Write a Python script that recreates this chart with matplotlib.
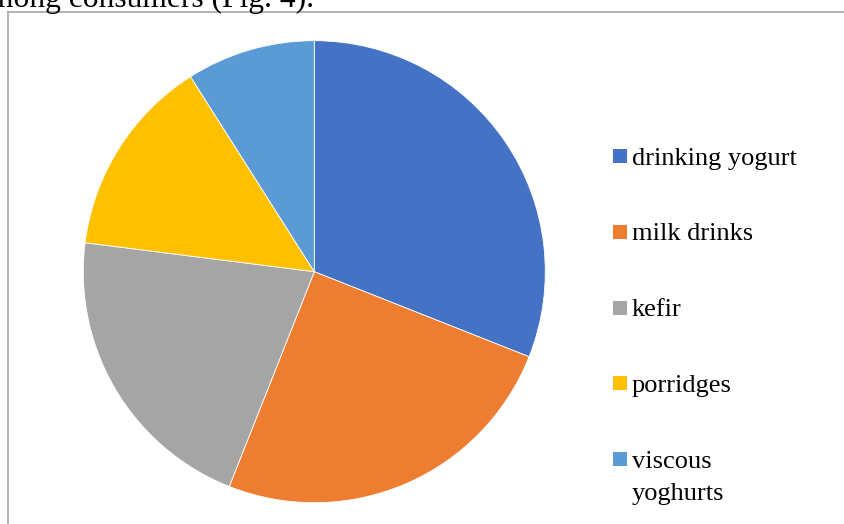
import matplotlib
matplotlib.use("Agg")
import matplotlib.pyplot as plt
from matplotlib.patches import Rectangle
from matplotlib.lines import Line2D

# share of consumers by product type (%)
products = ["drinking yogurt", "milk drinks", "kefir", "porridges", "viscous\nyoghurts"]
shares = [31, 25, 21, 14, 9]
colors = ["#4472C4", "#ED7D31", "#A5A5A5", "#FFC000", "#5B9BD5"]

W, H = 845, 524
fig = plt.figure(figsize=(W / 100, H / 100), dpi=100)
fig.patch.set_facecolor("white")

def fx(px):
    return px / W

def fy(py):
    # py measured from the top of the image
    return 1 - py / H

# pie sits in a square box centred at (314, 272), radius 231 px
cx, cy, r = 314.3, 271.7, 231.0
ax = fig.add_axes([fx(cx - r), fy(cy + r), 2 * r / W, 2 * r / H])
ax.pie(shares, colors=colors, startangle=90, counterclock=False,
       wedgeprops=dict(edgecolor="white", linewidth=0.6))
ax.set_xlim(-1, 1)
ax.set_ylim(-1, 1)
ax.set_aspect("auto")
ax.axis("off")

# chart frame (only top and left edges fall inside the crop)
fig.add_artist(Line2D([fx(8.5), fx(8.5)], [fy(11.5), 0], color="#A6A6A6", lw=1.2))
fig.add_artist(Line2D([fx(8.5), 1], [fy(11.5), fy(11.5)], color="#A6A6A6", lw=1.2))

# surrounding document text, mostly cut off
fig.text(fx(-25.5), fy(7.3), "among consumers (Fig. 4).", family="Liberation Serif",
         fontsize=22.7, va="baseline", ha="left", color="black")

# legend on the right; wrapped labels continue below the first line
sq = 14
for i, (name, c) in enumerate(zip(products, colors)):
    yc = 156 + i * 75.8
    fig.add_artist(Rectangle((fx(613), fy(yc + sq / 2)), sq / W, sq / H,
                             facecolor=c, edgecolor="none", transform=fig.transFigure))
    for k, line in enumerate(name.split("\n")):
        fig.text(fx(632), fy(yc + 8.5 + k * 32), line, family="Liberation Serif",
                 fontsize=19, va="baseline", ha="left", color="black")

fig.savefig("out.png", dpi=100)
